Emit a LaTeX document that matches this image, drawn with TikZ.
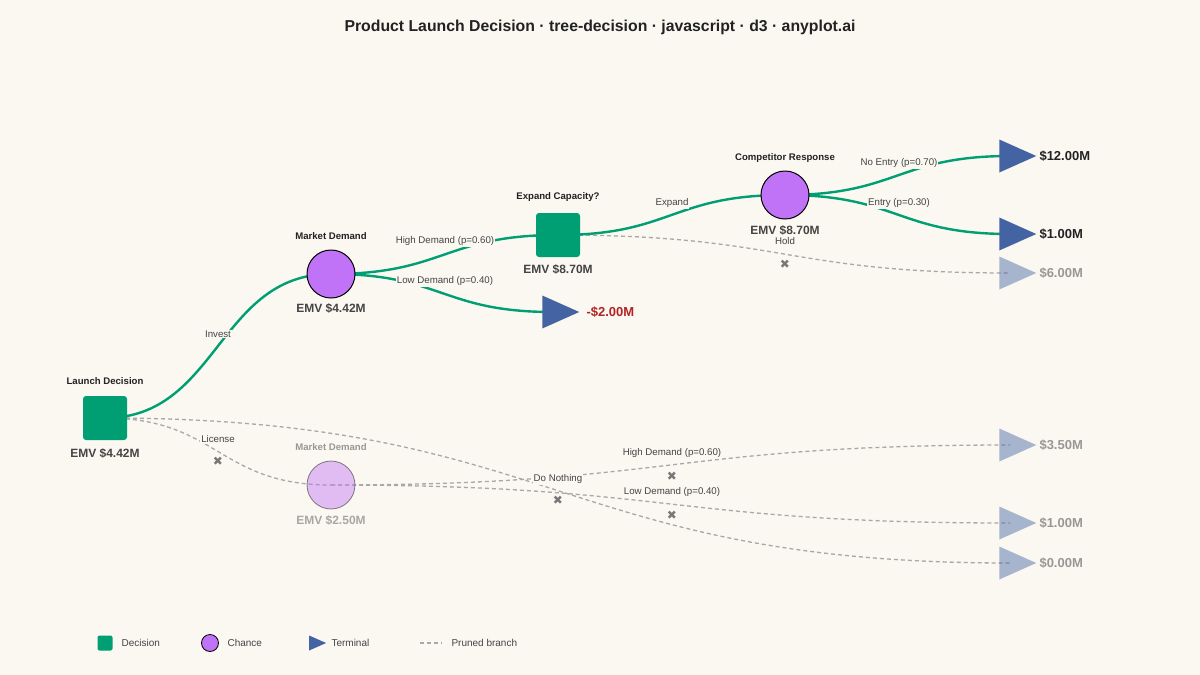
\documentclass[tikz,border=0pt]{standalone}
\usepackage{fontspec}
\setmainfont{Liberation Sans}
\newfontfamily\dejavu{DejaVu Sans}
\usetikzlibrary{shapes.geometric,calc}
\definecolor{bg}{HTML}{FAF8F1}
\definecolor{grn}{HTML}{009E73}
\definecolor{pur}{HTML}{C173F7}
\definecolor{blu}{HTML}{4463A3}
\definecolor{rd}{HTML}{B22222}
\definecolor{txt}{HTML}{222222}
\definecolor{lbl}{HTML}{444444}
\definecolor{dsh}{HTML}{A8A8A8}
\definecolor{xc}{HTML}{777777}
\tikzset{
 dec/.style={fill=grn,rounded corners=3pt,minimum size=44pt,inner sep=0},
 cha/.style={circle,fill=pur,draw=black,line width=1pt,minimum size=48pt,inner sep=0},
 ter/.style={isosceles triangle,isosceles triangle stretches,fill=blu,minimum height=37pt,minimum width=33pt,inner sep=0},
 faded/.style={opacity=0.45},
 live/.style={draw=grn,line width=2.4pt},
 pruned/.style={draw=dsh,line width=1.3pt,dash pattern=on 4pt off 3pt},
 ttl/.style={font=\bfseries\fontsize{9.6}{11}\selectfont,text=txt},
 emv/.style={font=\bfseries\fontsize{12}{14}\selectfont,text=lbl},
 elab/.style={font=\fontsize{9.7}{11}\selectfont,text=lbl,fill=bg,inner sep=1pt},
 val/.style={font=\bfseries\fontsize{13}{15}\selectfont,text=txt,anchor=west},
 xm/.style={font=\dejavu\fontsize{12}{13}\selectfont,text=xc},
 leg/.style={font=\fontsize{10}{12}\selectfont,text=lbl,anchor=west},
}
\newcommand{\lnk}[3]{\coordinate (mid) at ($(#2)!0.5!(#3)$);\draw[#1] (#2) .. controls (mid |- #2) and (mid |- #3) .. (#3);}
\begin{document}
\begin{tikzpicture}[x=1pt,y=-1pt]
\fill[bg] (0,0) rectangle (1200,675);
\node[font=\bfseries\fontsize{15.8}{19}\selectfont,text=txt] (title) at (600,27) {Product Launch Decision · tree-decision · javascript · d3 · anyplot.ai};
\coordinate (L) at (105,418);
\coordinate (M) at (331,274);
\coordinate (E) at (558,235);
\coordinate (C) at (785,195);
\coordinate (T1) at (1010,156);
\coordinate (T2) at (1010,234);
\coordinate (T3) at (1010,273);
\coordinate (TL) at (553,312);
\coordinate (M2) at (331,485);
\coordinate (T4) at (1010,445);
\coordinate (T5) at (1010,523);
\coordinate (T6) at (1010,563);
\lnk{pruned}{E}{T3}
\lnk{pruned}{L}{M2}
\lnk{pruned}{L}{T6}
\lnk{pruned}{M2}{T4}
\lnk{pruned}{M2}{T5}
\lnk{live}{L}{M}
\lnk{live}{M}{E}
\lnk{live}{M}{TL}
\lnk{live}{E}{C}
\lnk{live}{C}{T1}
\lnk{live}{C}{T2}
\node[elab] (l1) at (218,334) {Invest};
\node[elab] (l2) at (445,241) {High Demand (p=0.60)};
\node[elab] (l3) at (445,281) {Low Demand (p=0.40)};
\node[elab] (l4) at (672,203) {Expand};
\node[elab] (l5) at (899,163) {No Entry (p=0.70)};
\node[elab] (l6) at (899,203) {Entry (p=0.30)};
\node[elab] (l7) at (785,241) {Hold};
\node[elab] (l8) at (218,439) {License};
\node[elab] (l9) at (558,479) {Do Nothing};
\node[elab] (l10) at (672,453) {High Demand (p=0.60)};
\node[elab] (l11) at (672,492) {Low Demand (p=0.40)};
\node[xm] (x1) at (785,264) {✖};
\node[xm] (x2) at (218,461) {✖};
\node[xm] (x3) at (558,500) {✖};
\node[xm] (x4) at (672,476) {✖};
\node[xm] (x5) at (672,515) {✖};
\node[dec] (nL) at (L) {};
\node[ttl] (tL) at (105,381) {Launch Decision};
\node[emv] (eL) at (105,453) {EMV \$4.42M};
\node[cha] (nM) at (M) {};
\node[ttl] (tM) at (331,236) {Market Demand};
\node[emv] (eM) at (331,308) {EMV \$4.42M};
\node[dec] (nE) at (E) {};
\node[ttl] (tE) at (558,197) {Expand Capacity?};
\node[emv] (eE) at (558,269) {EMV \$8.70M};
\node[cha] (nC) at (C) {};
\node[ttl] (tC) at (785,158) {Competitor Response};
\node[emv] (eC) at (785,230) {EMV \$8.70M};
\node[ter] (n1) at (T1) {};
\node[val] (v1) at (1036,156) {\$12.00M};
\node[ter] (n2) at (T2) {};
\node[val] (v2) at (1036,234) {\$1.00M};
\node[ter,faded] (n3) at (T3) {};
\node[val,faded] (v3) at (1036,273) {\$6.00M};
\node[ter] (nTL) at (TL) {};
\node[val,text=rd] (vL) at (583,312) {-\$2.00M};
\node[cha,faded,line width=0.8pt] (nM2) at (M2) {};
\node[ttl,faded] (tM2) at (331,447) {Market Demand};
\node[emv,faded] (eM2) at (331,520) {EMV \$2.50M};
\node[ter,faded] (n4) at (T4) {};
\node[val,faded] (v4) at (1036,445) {\$3.50M};
\node[ter,faded] (n5) at (T5) {};
\node[val,faded] (v5) at (1036,523) {\$1.00M};
\node[ter,faded] (n6) at (T6) {};
\node[val,faded] (v6) at (1036,563) {\$0.00M};
\node[dec,minimum size=15pt,rounded corners=2pt] (g1) at (105,643) {};
\node[leg] (g1t) at (118,643) {Decision};
\node[cha,minimum size=17pt,line width=0.8pt] (g2) at (210,643) {};
\node[leg] (g2t) at (224,643) {Chance};
\node[ter,minimum height=17pt,minimum width=15pt] (g3) at (314,643) {};
\node[leg] (g3t) at (328,643) {Terminal};
\coordinate (g4a) at (420,643);
\coordinate (g4b) at (442,643);
\draw[pruned,line width=1.2pt] (g4a) -- (g4b);
\node[leg] (g4t) at (448,643) {Pruned branch};
\end{tikzpicture}
\end{document}
